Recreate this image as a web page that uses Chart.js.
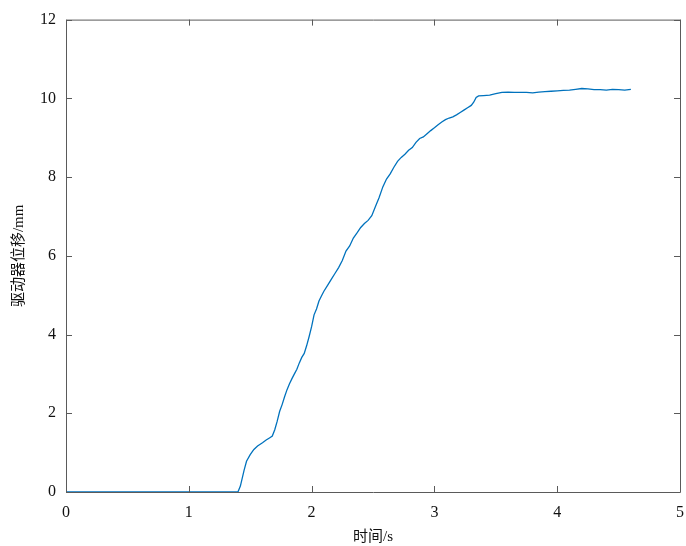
<!DOCTYPE html>
<html>
<head>
<meta charset="utf-8">
<script src="https://cdn.jsdelivr.net/npm/chart.js@4/dist/chart.umd.min.js"></script>
<style>
  html, body { margin: 0; padding: 0; background: #fff; }
  #wrap { width: 686px; height: 546px; }
</style>
</head>
<body>
<div id="wrap"><canvas id="chart"></canvas></div>
<script>
// Datos

let time = [
  0, 1.40, 1.42, 1.45, 1.47, 1.50, 1.53, 1.56, 1.60, 1.63, 1.66, 1.68,
  1.70, 1.72, 1.74, 1.76, 1.78, 1.80, 1.82, 1.84, 1.86, 1.88, 1.90, 1.92,
  1.94, 1.96, 1.98, 2.00, 2.02, 2.04, 2.06, 2.08, 2.10, 2.13, 2.16, 2.19,
  2.22, 2.25, 2.28, 2.31, 2.34, 2.37, 2.40, 2.43, 2.46, 2.49, 2.52, 2.55,
  2.58, 2.61, 2.64, 2.67, 2.70, 2.73, 2.76, 2.79, 2.82, 2.85, 2.88, 2.91,
  2.94, 2.97, 3.00, 3.03, 3.06, 3.09, 3.12, 3.15, 3.18, 3.21, 3.24, 3.27,
  3.30, 3.32, 3.34, 3.36, 3.40, 3.45, 3.50, 3.55, 3.60, 3.65, 3.70, 3.75,
  3.80, 3.85, 3.90, 3.95, 4.00, 4.05, 4.10, 4.15, 4.20, 4.25, 4.30, 4.35,
  4.40, 4.45, 4.50, 4.55, 4.60,
];

let displacement = [
  0, 0, 0.15, 0.55, 0.78, 0.95, 1.08, 1.17, 1.25, 1.32, 1.38, 1.42,
  1.58, 1.80, 2.05, 2.22, 2.42, 2.60, 2.75, 2.88, 3.00, 3.12, 3.28, 3.42,
  3.52, 3.72, 3.95, 4.20, 4.50, 4.65, 4.85, 4.98, 5.10, 5.25, 5.40, 5.55,
  5.70, 5.88, 6.12, 6.25, 6.45, 6.58, 6.72, 6.82, 6.90, 7.02, 7.25, 7.48,
  7.75, 7.95, 8.08, 8.25, 8.40, 8.50, 8.58, 8.68, 8.75, 8.88, 8.98, 9.02,
  9.10, 9.18, 9.25, 9.33, 9.40, 9.46, 9.50, 9.53, 9.58, 9.64, 9.70, 9.76,
  9.82, 9.90, 10.02, 10.06, 10.07, 10.08, 10.12, 10.15, 10.16, 10.15, 10.15, 10.15,
  10.14, 10.16, 10.17, 10.18, 10.19, 10.20, 10.21, 10.23, 10.25, 10.24, 10.22, 10.22,
  10.21, 10.23, 10.22, 10.21, 10.23,
];

let xTicks = [0, 1, 2, 3, 4, 5];
let yTicks = [0, 2, 4, 6, 8, 10, 12];

let axisFont = { family: "'Liberation Serif', 'Noto Sans CJK SC', serif", size: 16 };

// Caja y marcas hacia adentro (estilo MATLAB)

let boxPlugin = {
  id: "box",
  afterDraw(chart) {
    let ctx = chart.ctx;
    let area = chart.chartArea;
    let xs = chart.scales.x;
    let ys = chart.scales.y;
    let len = 6;
    ctx.save();
    ctx.strokeStyle = "#5a5a5a";
    ctx.lineWidth = 1;
    ctx.beginPath();
    ctx.rect(area.left + 0.5, area.top + 0.5, area.right - area.left, area.bottom - area.top);
    xTicks.forEach((v) => {
      let px = Math.round(xs.getPixelForValue(v)) + 0.5;
      ctx.moveTo(px, area.bottom);
      ctx.lineTo(px, area.bottom - len);
      ctx.moveTo(px, area.top);
      ctx.lineTo(px, area.top + len);
    });
    yTicks.forEach((v) => {
      let py = Math.round(ys.getPixelForValue(v)) + 0.5;
      ctx.moveTo(area.left, py);
      ctx.lineTo(area.left + len, py);
      ctx.moveTo(area.right, py);
      ctx.lineTo(area.right - len, py);
    });
    ctx.stroke();
    ctx.restore();
  },
};

let points = time.map((t, i) => ({ x: t, y: displacement[i] }));

new Chart(document.getElementById("chart"), {
  type: "line",
  data: {
    datasets: [
      {
        data: points,
        borderColor: "#0072BD",
        borderWidth: 1.3,
        pointRadius: 0,
        tension: 0,
        fill: false,
      },
    ],
  },
  options: {
    responsive: true,
    maintainAspectRatio: false,
    animation: false,
    layout: { padding: { top: 18, right: 6, left: 0, bottom: 0 } },
    plugins: { legend: { display: false }, tooltip: { enabled: false } },
    scales: {
      x: {
        type: "linear",
        min: 0,
        max: 5,
        afterBuildTicks: (scale) => {
          scale.ticks = xTicks.map((v) => ({ value: v }));
        },
        afterFit: (scale) => {
          scale.height = 54;
          scale.paddingLeft = 0;
          scale.paddingRight = 0;
        },
        grid: { display: false, drawTicks: false },
        border: { display: false },
        ticks: { color: "#111", font: axisFont, padding: 11, maxRotation: 0 },
        title: {
          display: true,
          text: "时间/s",
          color: "#111",
          font: { family: axisFont.family, size: 15 },
          padding: { top: 0, bottom: 0 },
        },
      },
      y: {
        min: 0,
        max: 12,
        afterBuildTicks: (scale) => {
          scale.ticks = yTicks.map((v) => ({ value: v }));
        },
        afterFit: (scale) => {
          scale.width = 66;
        },
        grid: { display: false, drawTicks: false },
        border: { display: false },
        ticks: { color: "#111", font: axisFont, padding: 10 },
        title: {
          display: true,
          text: "驱动器位移/mm",
          color: "#111",
          font: { family: axisFont.family, size: 15 },
          padding: { top: 10, bottom: 0 },
        },
      },
    },
  },
  plugins: [boxPlugin],
});
</script>
</body>
</html>
